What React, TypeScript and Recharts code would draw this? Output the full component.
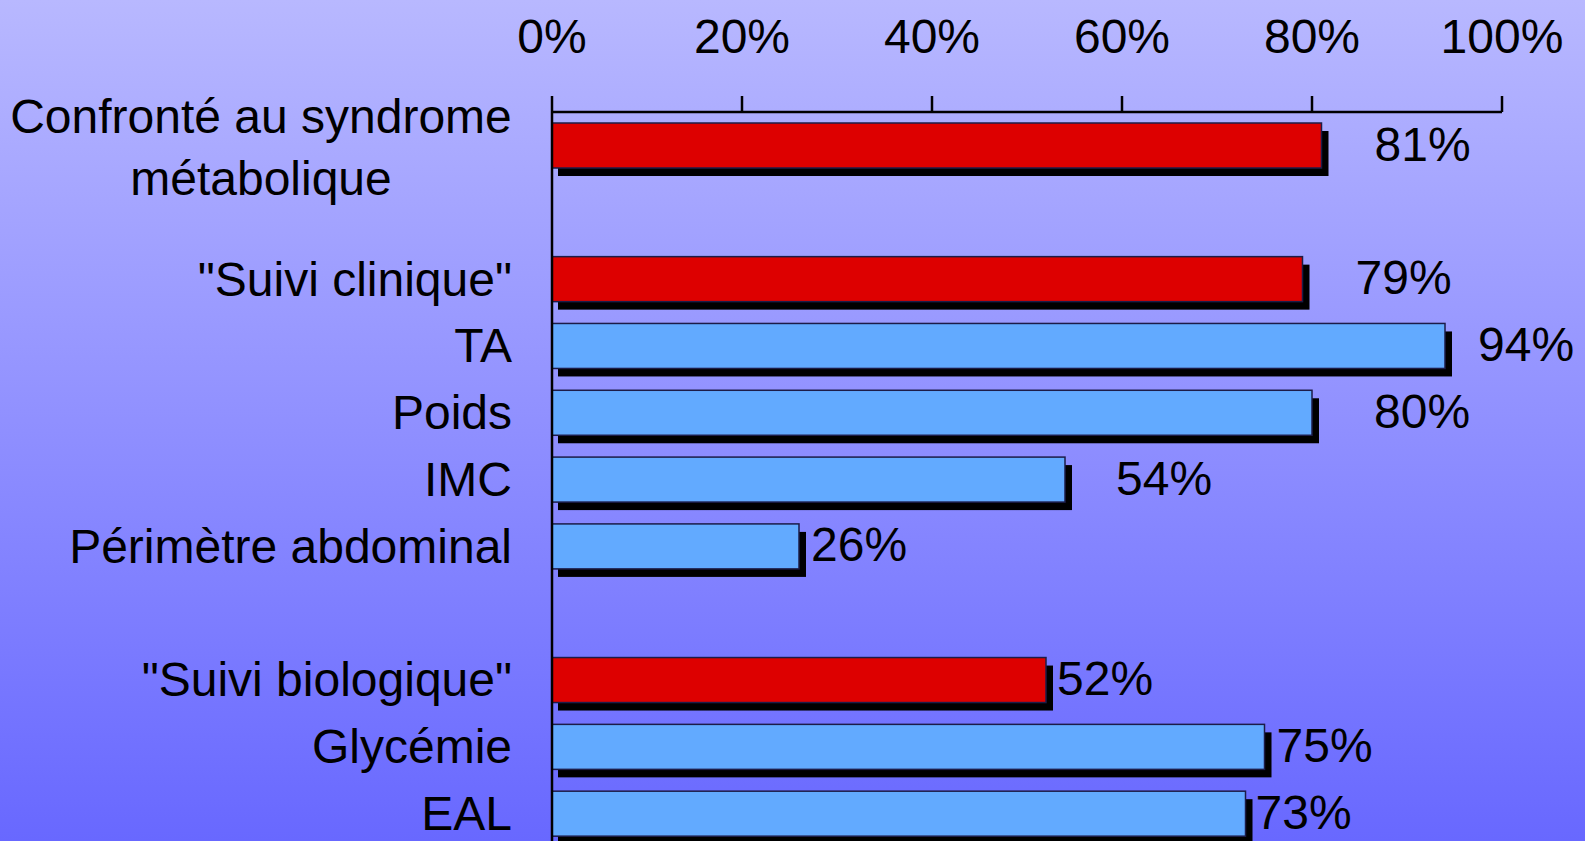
import { BarChart, Bar, XAxis, YAxis, LabelList } from "recharts";

// Survey results: share of GPs doing each kind of follow-up.
// Empty names are spacer rows between the three groups.
const categories = [
  "Confronté au syndrome\nmétabolique",
  "",
  '"Suivi clinique"',
  "TA",
  "Poids",
  "IMC",
  "Périmètre abdominal",
  " ",
  '"Suivi biologique"',
  "Glycémie",
  "EAL",
];
const values = [81, null, 79, 94, 80, 54, 26, null, 52, 75, 73];
// "head" rows are the group totals (red), "item" rows the details (blue)
const groups = ["head", null, "head", "item", "item", "item", "item", null, "head", "item", "item"];
const xTicks = [0, 20, 40, 60, 80, 100];

const data = categories.map((name, i) => ({ name, value: values[i], group: groups[i] }));
const labelled = data.filter((d) => d.value != null);

const FONT = '"Liberation Sans", Arial, Helvetica, sans-serif';
const FONT_SIZE = 48;
const FILL: Record<string, string> = { head: "#DD0000", item: "#62AAFF" };

// the labels were placed by hand on the original slide, so the gap
// between bar end and label text is not constant
const LABEL_GAP: Record<string, number> = {
  "Confronté au syndrome\nmétabolique": 53,
  '"Suivi clinique"': 53,
  TA: 33,
  Poids: 62,
  IMC: 51,
  "Périmètre abdominal": 12,
  '"Suivi biologique"': 11,
  "Glycémie": 12,
  EAL: 10,
};

function ShadowBar(props: any) {
  const { x, y, width, height, payload } = props;
  if (!width || payload.value == null) return null;
  return (
    <g>
      <rect x={x + 6} y={y + 8} width={width + 1} height={height} fill="#000" />
      <rect
        x={x}
        y={y}
        width={width}
        height={height}
        fill={FILL[payload.group]}
        stroke="#1c1c48"
        strokeWidth={1.5}
      />
    </g>
  );
}

function CategoryTick(props: any) {
  const { x, y, payload } = props;
  const lines = String(payload.value).split("\n");
  if (lines.length === 1) {
    return (
      <text x={x} y={y} dy={16.5} textAnchor="end" fill="#000" fontSize={FONT_SIZE} fontFamily={FONT}>
        {lines[0]}
      </text>
    );
  }
  // wrapped label: lines centred on each other, block flush right
  const cx = x - 251;
  return (
    <text x={cx} y={y} textAnchor="middle" fill="#000" fontSize={FONT_SIZE} fontFamily={FONT}>
      {lines.map((line, i) => (
        <tspan key={i} x={cx} y={y - 12 + i * 62}>
          {line}
        </tspan>
      ))}
    </text>
  );
}

function ValueLabel(props: any) {
  const { x, y, width, height, value, index } = props;
  if (value == null) return null;
  const row = props.payload?.name != null ? props.payload : labelled[index];
  const gap = row ? LABEL_GAP[row.name] ?? 12 : 12;
  return (
    <text x={x + width + gap} y={y + height / 2 + 15} fill="#000" fontSize={FONT_SIZE} fontFamily={FONT}>
      {`${value}%`}
    </text>
  );
}

export default function App() {
  return (
    <div
      style={{
        position: "fixed",
        left: 0,
        top: 0,
        width: 1585,
        height: 841,
        overflow: "hidden",
        background: "linear-gradient(to bottom, rgb(184,184,255), rgb(104,104,255))",
        fontFamily: FONT,
      }}
    >
      <BarChart
        width={1585}
        height={847}
        data={data}
        layout="vertical"
        margin={{ top: 0, right: 83, bottom: 0, left: 0 }}
        barSize={45}
      >
        <XAxis
          type="number"
          orientation="top"
          domain={[0, 100]}
          ticks={xTicks}
          tickFormatter={(v) => `${v}%`}
          height={112}
          tickSize={16}
          tickMargin={43}
          tick={{ fill: "#000", fontSize: FONT_SIZE, fontFamily: FONT }}
          tickLine={{ stroke: "#000", strokeWidth: 2.5 }}
          axisLine={{ stroke: "#000", strokeWidth: 2.5 }}
        />
        <YAxis
          type="category"
          dataKey="name"
          width={552}
          tickSize={0}
          tickMargin={40}
          tickLine={false}
          interval={0}
          tick={<CategoryTick />}
          axisLine={{ stroke: "#000", strokeWidth: 2.5 }}
        />
        <Bar dataKey="value" shape={<ShadowBar />} isAnimationActive={false}>
          <LabelList dataKey="value" content={<ValueLabel />} />
        </Bar>
      </BarChart>
    </div>
  );
}
